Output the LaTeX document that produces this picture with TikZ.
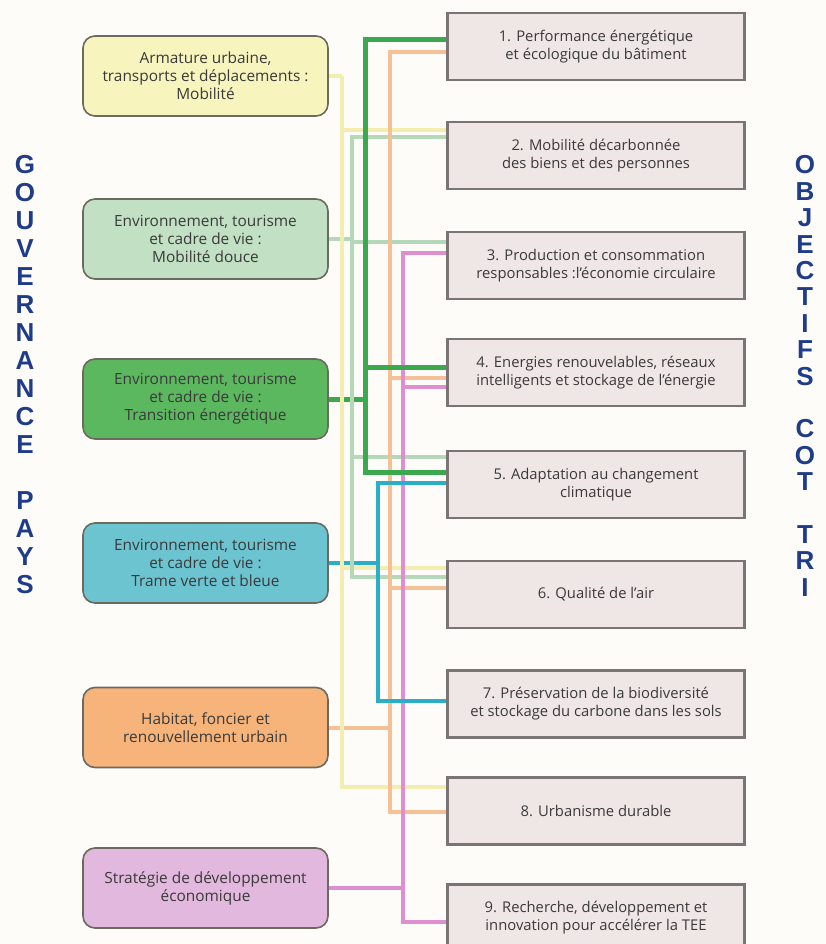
\documentclass[tikz,border=0pt]{standalone}
\usepackage{fontspec}
\setmainfont{Open Sans}
\newfontfamily\titlefont{Liberation Sans}
\definecolor{bgc}{HTML}{FDFCF8}
\definecolor{txt}{HTML}{3A3A3A}
\definecolor{gbord}{HTML}{6C6A5E}
\definecolor{obord}{HTML}{7A7474}
\definecolor{ofill}{HTML}{EFE6E6}
\definecolor{fY}{HTML}{F8F4BE}
\definecolor{fLG}{HTML}{C2E0C4}
\definecolor{fDG}{HTML}{5CB85F}
\definecolor{fT}{HTML}{6CC4D1}
\definecolor{fO}{HTML}{F6B47A}
\definecolor{fP}{HTML}{E2B8DE}
\definecolor{lY}{HTML}{F3EDAF}
\definecolor{lLG}{HTML}{B4D8B8}
\definecolor{lDG}{HTML}{3CA94F}
\definecolor{lT}{HTML}{2AAFC6}
\definecolor{lO}{HTML}{F6C097}
\definecolor{lP}{HTML}{DF8ECF}
\definecolor{ttlc}{HTML}{1F3C88}
\begin{document}
\begin{tikzpicture}[x=1pt,y=-1pt,
  gbox/.style={rectangle, rounded corners=12pt, draw=gbord, line width=1.6pt,
    minimum width=245pt, minimum height=80pt, align=center, inner sep=0pt,
    font=\fontsize{15.4}{18}\selectfont, text=txt},
  obox/.style={rectangle, draw=obord, fill=ofill, line width=1.6pt,
    minimum width=296pt, minimum height=66pt, align=center, inner sep=0pt,
    font=\fontsize{14.8}{18}\selectfont, text=txt},
  ttl/.style={font=\titlefont\bfseries\fontsize{26}{26}\selectfont, text=ttlc, inner sep=0pt},
  wY/.style={draw=lY, line width=4pt},
  wLG/.style={draw=lLG, line width=4pt},
  wDG/.style={draw=lDG, line width=5pt},
  wT/.style={draw=lT, line width=4.5pt},
  wO/.style={draw=lO, line width=4pt},
  wP/.style={draw=lP, line width=4pt}]
\clip (0,0) rectangle (826,944);
\fill[bgc] (0,0) rectangle (826,944);

% bus x positions
\coordinate (bY) at (342,0);
\coordinate (bLG) at (352,0);
\coordinate (bDG) at (365,0);
\coordinate (bT) at (378,0);
\coordinate (bO) at (390,0);
\coordinate (bP) at (403,0);

% governance boxes
\node[gbox, fill=fY]  (g1) at (205.5,76)  {Armature urbaine,\\transports et déplacements :\\Mobilité};
\node[gbox, fill=fLG] (g2) at (205.5,239) {Environnement, tourisme\\et cadre de vie :\\Mobilité douce};
\node[gbox, fill=fDG] (g3) at (205.5,399) {Environnement, tourisme\\et cadre de vie :\\Transition énergétique};
\node[gbox, fill=fT]  (g4) at (205.5,563) {Environnement, tourisme\\et cadre de vie :\\Trame verte et bleue};
\node[gbox, fill=fO]  (g5) at (205.5,727.5) {Habitat, foncier et\\renouvellement urbain};
\node[gbox, fill=fP]  (g6) at (205.5,888) {Stratégie de développement\\économique};

% objective boxes
\node[obox] (o1) at (596,46.5)  {1. Performance énergétique\\et écologique du bâtiment};
\node[obox] (o2) at (596,155.5) {2. Mobilité décarbonnée\\des biens et des personnes};
\node[obox] (o3) at (596,265.5) {3. Production et consommation\\responsables :l'économie circulaire};
\node[obox] (o4) at (596,372.5) {4. Energies renouvelables, réseaux\\intelligents et stockage de l'énergie};
\node[obox] (o5) at (596,484.5) {5. Adaptation au changement\\climatique};
\node[obox] (o6) at (596,594.5) {6. Qualité de l'air};
\node[obox] (o7) at (596,704)   {7. Préservation de la biodiversité\\et stockage du carbone dans les sols};
\node[obox] (o8) at (596,811)   {8. Urbanisme durable};
\node[obox] (o9) at (596,918)   {9. Recherche, développement et\\innovation pour accélérer la TEE};

% connectors from governance boxes to their bus
\draw[wLG] (g2.east) -- (g2.east -| bLG);
\draw[wDG] (g3.east) -- (g3.east -| bDG);
\draw[wT]  (g4.east) -- (g4.east -| bT);
\draw[wO]  (g5.east) -- (g5.east -| bO);
\draw[wP]  (g6.east) -- (g6.east -| bP);
\draw[wY]  (g1.east) -- (g1.east -| bY);

% buses
\draw[wY] (g1.east -| bY) -- (bY |- 0,787) -- (o8.west |- 0,787);
\draw[wY] (bY |- 0,130) -- (o2.west |- 0,130);
\draw[wY] (bY |- 0,568) -- (o6.west |- 0,568);

\draw[wLG] (o2.west |- 0,137) -- (bLG |- 0,137) -- (bLG |- 0,577) -- (o6.west |- 0,577);
\draw[wLG] (bLG |- 0,242) -- (o3.west |- 0,242);
\draw[wLG] (bLG |- 0,457) -- (o5.west |- 0,457);

\draw[wO] (o1.west |- 0,52) -- (bO |- 0,52) -- (bO |- 0,812) -- (o8.west |- 0,812);
\draw[wO] (bO |- 0,378) -- (o4.west |- 0,378);
\draw[wO] (bO |- 0,588) -- (o6.west |- 0,588);

\draw[wP] (o3.west |- 0,253) -- (bP |- 0,253) -- (bP |- 0,922) -- (o9.west |- 0,922);
\draw[wP] (bP |- 0,387) -- (o4.west |- 0,387);

\draw[wT] (o5.west |- 0,483) -- (bT |- 0,483) -- (bT |- 0,701) -- (o7.west |- 0,701);

\draw[wDG] (o1.west |- 0,40) -- (bDG |- 0,40) -- (bDG |- 0,472) -- (o5.west |- 0,472);
\draw[wDG] (bDG |- 0,367) -- (o4.west |- 0,367);

% redraw box borders on top of line ends
\foreach \n in {o1,o2,o3,o4,o5,o6,o7,o8,o9}
  \draw[obord, line width=1.6pt] (\n.north west) rectangle (\n.south east);

% vertical titles
\foreach \ch/\k in {G/0,O/1,U/2,V/3,E/4,R/5,N/6,A/7,N/8,C/9,E/10,P/12,A/13,Y/14,S/15}
  \node[ttl] (gl\k) at (25,165+28*\k) {\ch};
\foreach \ch/\k in {O/0,B/1,J/2,E/3,C/4,T/5,I/6,F/7,S/8,C/10,O/11,T/12,T/14,R/15,I/16}
  \node[ttl] (ol\k) at (805,165+26.4*\k) {\ch};
\end{tikzpicture}
\end{document}
